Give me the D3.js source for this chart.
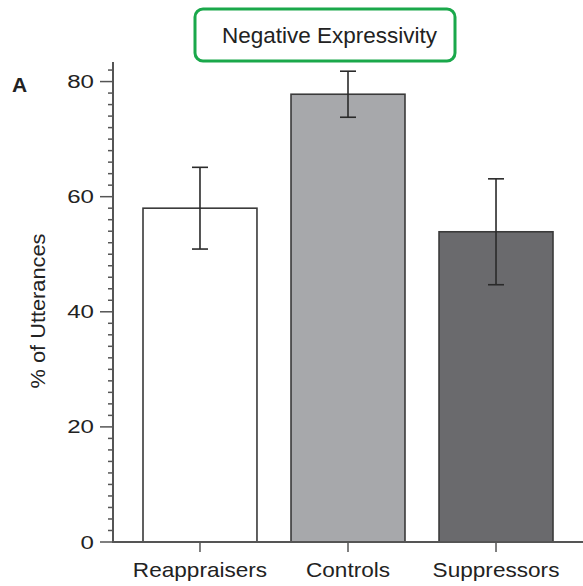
<!DOCTYPE html>
<html><head><meta charset="utf-8">
<script src="https://cdn.jsdelivr.net/npm/d3@7"></script>
<style>body{margin:0;background:#fff}</style>
</head><body>
<svg id="c" width="583" height="586"></svg>
<script>
const categories = ["Reappraisers", "Controls", "Suppressors"];
const values = [58.0, 77.8, 53.9];
const errors = [7.1, 4.0, 9.2];
const colors = ["#ffffff", "#a7a8ab", "#6a6a6d"];
const majorTicks = [0, 20, 40, 60, 80];
const title = "Negative Expressivity";
const yLabel = "% of Utterances";
const panel = "A";

const svg = d3.select("#c");
const x0 = 113, x1 = 583, yTop = 62, yBot = 542;
const y = d3.scaleLinear().domain([0, 83.4]).range([yBot, yTop]);
const x = d3.scaleBand().domain(categories).range([128.2, 567.8]).paddingInner(0.23).paddingOuter(0.1);
const font = "Liberation Sans, Arial, Helvetica, sans-serif";

function stext(g, tx, ty, k, size, str, anchor, extra) {
  const t = g.append("text").attr("transform", `translate(${tx},${ty}) scale(${k},1)` + (extra || ""))
    .attr("text-anchor", anchor).attr("font-family", font).attr("font-size", size).attr("fill", "#222").text(str);
  return t;
}

// bars
svg.selectAll("rect.bar").data(categories).join("rect")
  .attr("x", d => x(d)).attr("width", x.bandwidth())
  .attr("y", (d,i) => y(values[i])).attr("height", (d,i) => yBot - y(values[i]))
  .attr("fill", (d,i) => colors[i]).attr("stroke", "#3a3a3a").attr("stroke-width", 1.6);

// error bars
const eb = svg.append("g").attr("stroke", "#2a2a2a").attr("stroke-width", 1.6);
categories.forEach((c, i) => {
  const cx = x(c) + x.bandwidth()/2;
  eb.append("line").attr("x1", cx).attr("x2", cx).attr("y1", y(values[i]+errors[i])).attr("y2", y(values[i]-errors[i]));
  [values[i]+errors[i], values[i]-errors[i]].forEach(v => {
    eb.append("line").attr("x1", cx-8).attr("x2", cx+8).attr("y1", y(v)).attr("y2", y(v));
  });
});

// axes
const minor = d3.range(0, 84, 2).filter(v => v % 20 !== 0);
const ga = svg.append("g").attr("stroke", "#555").attr("stroke-width", 1.5);
ga.selectAll("line.mn").data(minor).join("line")
  .attr("x1", x0-5).attr("x2", x0).attr("y1", d => y(d)).attr("y2", d => y(d));
ga.selectAll("line.mj").data(majorTicks).join("line")
  .attr("x1", x0-13).attr("x2", x0).attr("y1", d => y(d)).attr("y2", d => y(d));
ga.append("line").attr("x1", x0).attr("x2", x0).attr("y1", yTop).attr("y2", yBot+1).attr("stroke-width", 2);
ga.append("line").attr("x1", x0).attr("x2", x1).attr("y1", yBot).attr("y2", yBot).attr("stroke-width", 2);
ga.selectAll("line.xt").data(categories).join("line")
  .attr("x1", d => x(d)+x.bandwidth()/2).attr("x2", d => x(d)+x.bandwidth()/2)
  .attr("y1", yBot).attr("y2", yBot+10);

majorTicks.forEach(v => stext(svg, 94, y(v) + 6.6, 1.3, 18.5, v, "end"));
categories.forEach(c => stext(svg, x(c)+x.bandwidth()/2, 577, 1.13, 20, c, "middle"));

svg.append("text").attr("transform", `translate(45,311) rotate(-90) scale(1.09,1)`)
  .attr("text-anchor", "middle").attr("font-family", font).attr("font-size", 20).attr("fill", "#222")
  .text(yLabel);

svg.append("text").attr("x", 12).attr("y", 92).attr("font-family", font).attr("font-weight", "bold")
  .attr("font-size", 21).attr("fill", "#222").text(panel);

svg.append("rect").attr("x", 195).attr("y", 9).attr("width", 260).attr("height", 52).attr("rx", 8)
  .attr("fill", "#fff").attr("stroke", "#1aa84b").attr("stroke-width", 3);
svg.append("text").attr("x", 329.5).attr("y", 43).attr("text-anchor", "middle")
  .attr("font-family", font).attr("font-size", 22.5).attr("fill", "#222").text(title);
</script>
</body></html>
